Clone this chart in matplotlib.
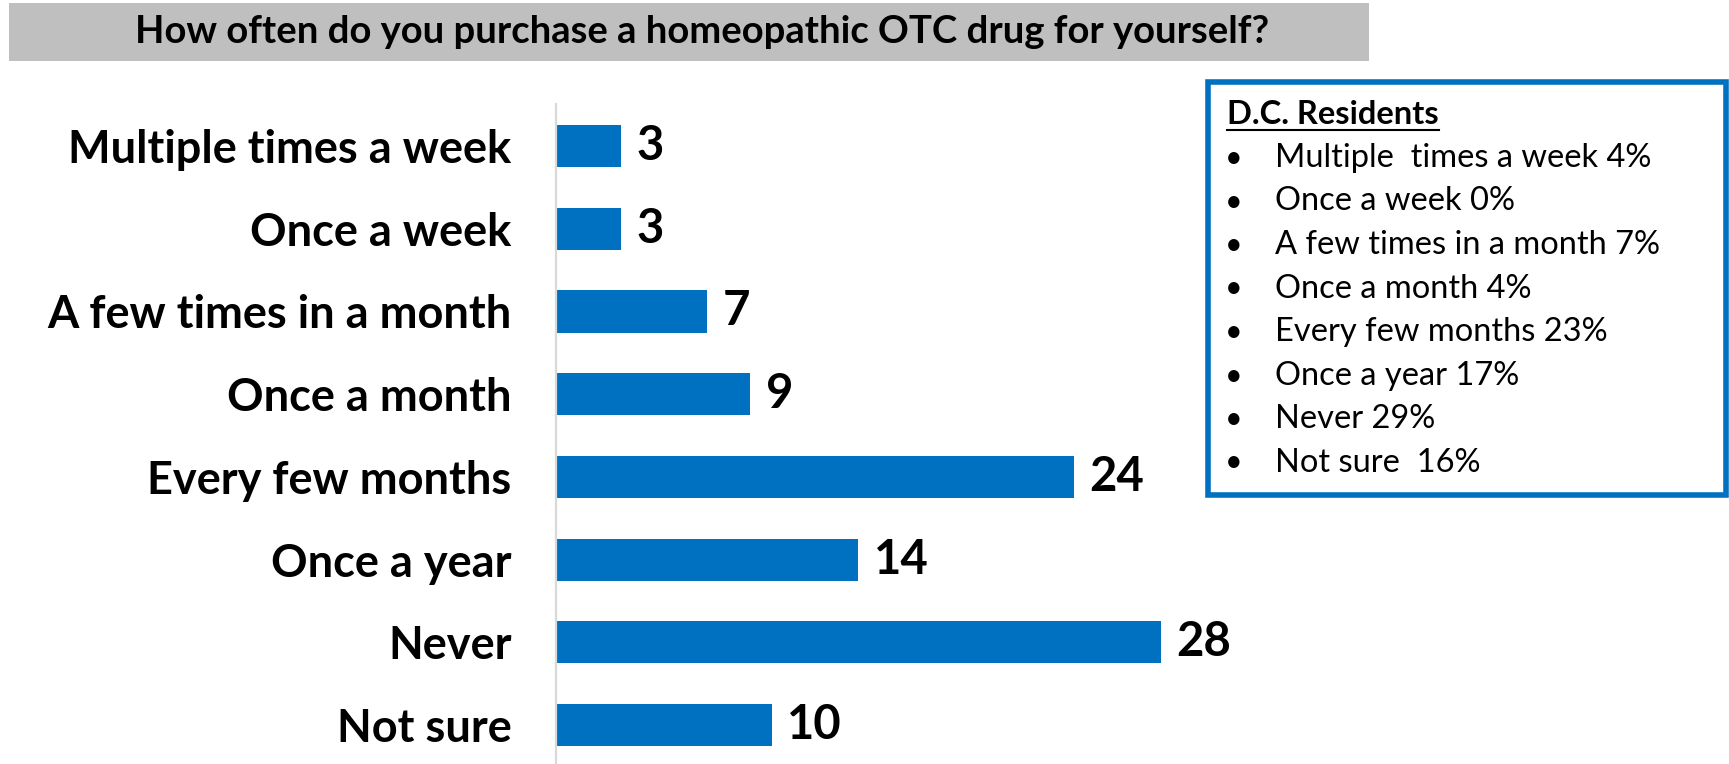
import matplotlib.pyplot as plt
from matplotlib.patches import Rectangle
from matplotlib.lines import Line2D

title = "How often do you purchase a homeopathic OTC drug for yourself?"
categories = [
    "Multiple times a week",
    "Once a week",
    "A few times in a month",
    "Once a month",
    "Every few months",
    "Once a year",
    "Never",
    "Not sure",
]
values = [3, 3, 7, 9, 24, 14, 28, 10]
dc_header = "D.C. Residents"
dc_items = [
    "Multiple  times a week 4%",
    "Once a week 0%",
    "A few times in a month 7%",
    "Once a month 4%",
    "Every few months 23%",
    "Once a year 17%",
    "Never 29%",
    "Not sure  16%",
]

W, H = 1729, 764
BLUE = "#0070C0"
plt.rcParams["font.family"] = ["Lato", "DejaVu Sans"]


def main():
    fig = plt.figure(figsize=(W / 100, H / 100), dpi=100)
    ax = fig.add_axes([556 / W, 0, 864 / W, 1 - 104 / H])

    pos = list(range(len(categories)))
    ax.barh(pos, values, height=0.51, color=BLUE)
    ax.set_xlim(0, 40)
    ax.set_ylim(7.47, -0.508)

    for p, v in zip(pos, values):
        ax.annotate(str(v), (v, p), xytext=(11, 0), textcoords="offset points",
                    va="center", ha="left", fontsize=34, fontweight="bold")

    ax.set_yticks(pos)
    ax.set_yticklabels(categories, fontsize=32.5, fontweight="bold")
    ax.tick_params(axis="y", length=0, pad=32)
    ax.set_xticks([])
    for s in ["top", "right", "bottom"]:
        ax.spines[s].set_visible(False)
    ax.spines["left"].set_color("#d9d9d9")
    ax.spines["left"].set_linewidth(1.6)

    # title box
    fig.patches.append(Rectangle((9 / W, 1 - 61 / H), 1360 / W, 58 / H,
                                 transform=fig.transFigure, facecolor="#bfbfbf",
                                 edgecolor="none", zorder=0))
    fig.text(702 / W, 1 - 32 / H, title, ha="center", va="center",
             fontsize=27.5, fontweight="bold")

    # D.C. residents box
    fig.patches.append(Rectangle((1208 / W, 1 - 495 / H), 518 / W, 413 / H,
                                 transform=fig.transFigure, facecolor="white",
                                 edgecolor=BLUE, linewidth=4, zorder=1))
    hdr = fig.text(1227 / W, 1 - 114 / H, dc_header, ha="left", va="center",
                   fontsize=23.5, fontweight="bold", zorder=3)
    for i, item in enumerate(dc_items):
        y = 1 - (158 + i * 43.5) / H
        fig.text(1234 / W, y, "\u2022", ha="center", va="center", fontsize=22, zorder=3)
        fig.text(1275 / W, y, item, ha="left", va="center", fontsize=23.5, zorder=3)

    r = fig.canvas.get_renderer()
    bb = hdr.get_window_extent(r)
    fig.add_artist(Line2D([bb.x0 / W, bb.x1 / W], [(bb.y0 - 1) / H] * 2,
                          transform=fig.transFigure, color="black", linewidth=1.5))

    fig.savefig("out.png", dpi=100)


if __name__ == "__main__":
    main()
